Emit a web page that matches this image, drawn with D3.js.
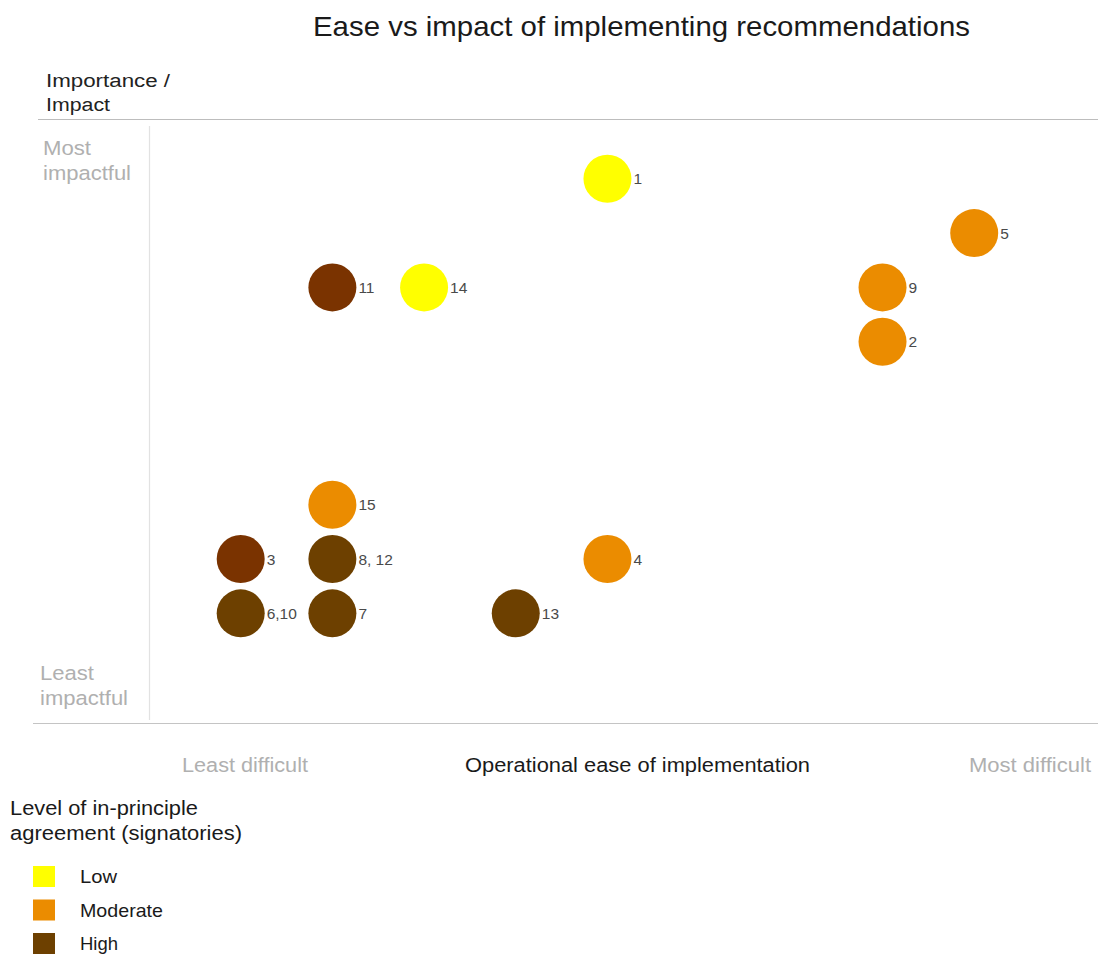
<!DOCTYPE html>
<html>
<head>
<meta charset="utf-8">
<script src="https://cdn.jsdelivr.net/npm/d3@7/dist/d3.min.js"></script>
<style>
  html, body { margin: 0; padding: 0; background: #fff; }
  svg { display: block; font-family: "Liberation Sans", Arial, sans-serif; }
</style>
</head>
<body>
<svg id="chart" width="1098" height="957"></svg>
<script>
// Recommendations: label, ease score (x), impact score (y), agreement level
const labels = ["1", "5", "11", "14", "9", "2", "15", "3", "8, 12", "4", "6,10", "7", "13"];
const ease   = [5, 9, 2, 3, 8, 8, 2, 1, 2, 5, 1, 2, 4];
const impact = [10, 9, 8, 8, 8, 7, 4, 3, 3, 3, 2, 2, 2];
const level  = ["Low", "Moderate", "High", "Low", "Moderate", "Moderate", "Moderate",
                "High", "High", "Moderate", "High", "High", "High"];
// darker red-brown tone used on a couple of the high-agreement bubbles
const tone   = [0, 0, 1, 0, 0, 0, 0, 1, 0, 0, 0, 0, 0];

const levels = ["Low", "Moderate", "High"];
const levelColors = ["#ffff00", "#eb8c00", "#6d4000"];
const redTone = "#7a3300";

const svg = d3.select("#chart");
const W = 1098;

const x = d3.scaleLinear().domain([0, 10.35]).range([149, 1098]);
const y = d3.scaleLinear().domain([0, 11.1]).range([722, 119]);
const color = d3.scaleOrdinal().domain(levels).range(levelColors);

// helper: text stretched to a set width
function label(sel, txt, px, py, size, fill, len) {
  const t = sel.append("text")
    .attr("x", px).attr("y", py)
    .attr("font-size", size).attr("fill", fill)
    .text(txt);
  if (len) t.attr("textLength", len).attr("lengthAdjust", "spacingAndGlyphs");
  return t;
}

// Title
label(svg, "Ease vs impact of implementing recommendations", 313, 36, 28.5, "#1a1a1a", 657);

// Y axis heading
label(svg, "Importance /", 46, 87, 18, "#222", 124);
label(svg, "Impact", 46, 111, 18, "#222", 64);

// Frame lines
svg.append("line").attr("x1", 38).attr("x2", W).attr("y1", 119.5).attr("y2", 119.5)
  .attr("stroke", "#bdbdbd").attr("stroke-width", 1.2);
svg.append("line").attr("x1", 33).attr("x2", W).attr("y1", 723.5).attr("y2", 723.5)
  .attr("stroke", "#c4c4c4").attr("stroke-width", 1.2);
svg.append("line").attr("x1", 149.5).attr("x2", 149.5).attr("y1", 126).attr("y2", 720)
  .attr("stroke", "#e2e2e2").attr("stroke-width", 1.2);

// Y end labels
const grey = "#b0b0b0";
label(svg, "Most", 43, 155, 20.5, grey, 48);
label(svg, "impactful", 43, 180, 20.5, grey, 88);
label(svg, "Least", 40, 680, 20.5, grey, 54);
label(svg, "impactful", 40, 705, 20.5, grey, 88);

// X axis labels
label(svg, "Least difficult", 182, 772, 19.5, grey, 126);
label(svg, "Operational ease of implementation", 465, 772, 19.5, "#1a1a1a", 345);
label(svg, "Most difficult", 969, 772, 19.5, grey, 122);

// Bubbles
const data = labels.map((l, i) => ({ label: l, x: ease[i], y: impact[i], level: level[i], tone: tone[i] }));
const r = 24;
const pts = svg.append("g").selectAll("g.pt").data(data).join("g").attr("class", "pt")
  .attr("transform", d => `translate(${x(d.x)},${y(d.y)})`);
pts.append("circle").attr("r", r)
  .attr("fill", d => d.tone ? redTone : color(d.level));
pts.append("text")
  .attr("x", r + 2).attr("dy", "0.36em")
  .attr("font-size", 15.5).attr("fill", "#4a4a4a")
  .text(d => d.label);

// Legend
label(svg, "Level of in-principle", 10, 815, 19.5, "#1a1a1a", 188);
label(svg, "agreement (signatories)", 10, 840, 19.5, "#1a1a1a", 232);

const legLen = { "Low": 37, "Moderate": 83, "High": 38 };
const leg = svg.append("g").selectAll("g").data(levels).join("g")
  .attr("transform", (d, i) => `translate(33,${866 + i * 33.5})`);
leg.append("rect").attr("width", 22).attr("height", 21).attr("fill", d => color(d));
leg.append("text").attr("x", 47).attr("y", 17)
  .attr("font-size", 19).attr("fill", "#1a1a1a")
  .attr("textLength", d => legLen[d]).attr("lengthAdjust", "spacingAndGlyphs")
  .text(d => d);
</script>
</body>
</html>
